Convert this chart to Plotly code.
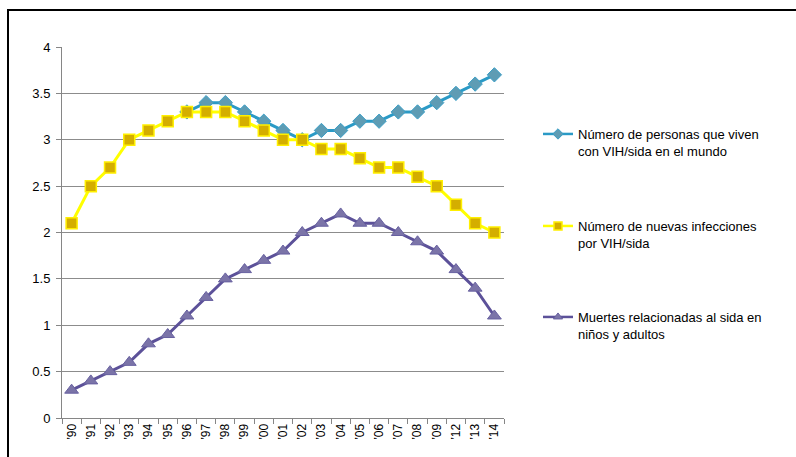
import plotly.graph_objects as go

# Years shown on the category axis
years = ["’90", "’91", "’92", "’93", "’94", "’95", "’96", "’97", "’98", "’99",
         "’00", "’01", "’02", "’03", "’04", "’05", "’06", "’07", "’08", "’09",
         "’12", "’13", "’14"]

# People living with HIV (series begins in '96)
living = [None, None, None, None, None, None, 3.3, 3.4, 3.4, 3.3,
          3.2, 3.1, 3.0, 3.1, 3.1, 3.2, 3.2, 3.3, 3.3, 3.4,
          3.5, 3.6, 3.7]

# New HIV infections
new_inf = [2.1, 2.5, 2.7, 3.0, 3.1, 3.2, 3.3, 3.3, 3.3, 3.2,
           3.1, 3.0, 3.0, 2.9, 2.9, 2.8, 2.7, 2.7, 2.6, 2.5,
           2.3, 2.1, 2.0]

# AIDS-related deaths
deaths = [0.3, 0.4, 0.5, 0.6, 0.8, 0.9, 1.1, 1.3, 1.5, 1.6,
          1.7, 1.8, 2.0, 2.1, 2.2, 2.1, 2.1, 2.0, 1.9, 1.8,
          1.6, 1.4, 1.1]

# Y-axis tick values and labels
y_ticks = [0, 0.5, 1, 1.5, 2, 2.5, 3, 3.5, 4]
y_labels = ["0", "0.5", "1", "1.5", "2", "2.5", "3", "3.5", "4"]

names = [
    "Número de personas que viven<br>con VIH/sida en el mundo",
    "Número de nuevas infecciones<br>por VIH/sida",
    "Muertes relacionadas al sida en<br>niños y adultos",
]

FONT = "Liberation Sans, Arial, sans-serif"

styles = [
    dict(line=dict(color="#2A9AC6", width=3),
         marker=dict(symbol="diamond", color="#5E9CB4",
                     line=dict(color="#3A9FC7", width=1))),
    dict(line=dict(color="#FFFF00", width=3),
         marker=dict(symbol="square", color="#D4AE00",
                     line=dict(color="#FFEF00", width=1.5))),
    dict(line=dict(color="#5C5199", width=3),
         marker=dict(symbol="triangle-up", color="#7B74A8",
                     line=dict(color="#6760A0", width=1))),
]
plot_sizes = [11, 11, 12]
series = [living, new_inf, deaths]
legends = ["legend", "legend2", "legend3"]

fig = go.Figure()
for vals, st, size in zip(series, styles, plot_sizes):
    fig.add_trace(go.Scatter(
        x=years, y=vals, mode="lines+markers", showlegend=False,
        line=st["line"], marker=dict(size=size, **st["marker"]),
    ))

# Legend entries with smaller key markers
for name, st, leg in zip(names, styles, legends):
    fig.add_trace(go.Scatter(
        x=[None], y=[None], name=name, mode="lines+markers",
        line=dict(color=st["line"]["color"], width=2.5),
        marker=dict(size=8, **st["marker"]), legend=leg,
    ))

L, R, T, B = 62, 292, 47, 39
W, H = 796, 457
pw, ph = W - L - R, H - T - B


def px_x(p):
    return (p - L) / pw


def px_y(p):
    return (H - B - p) / ph


legend_common = dict(
    font=dict(family=FONT, size=13, color="#000000"),
    bgcolor="rgba(0,0,0,0)", xanchor="left", yanchor="top",
    valign="top", itemwidth=30, tracegroupgap=0,
)

fig.update_layout(
    width=W, height=H,
    margin=dict(l=L, r=R, t=T, b=B, autoexpand=False),
    paper_bgcolor="white", plot_bgcolor="white",
    font=dict(family=FONT, size=13, color="#000000"),
    showlegend=True,
    legend=dict(x=px_x(538), y=px_y(119), **legend_common),
    legend2=dict(x=px_x(538), y=px_y(211), **legend_common),
    legend3=dict(x=px_x(538), y=px_y(302), **legend_common),
    xaxis=dict(
        type="category", tickangle=-90, tickson="boundaries",
        ticks="outside", ticklen=5, tickcolor="#868686",
        showline=True, linecolor="#868686", linewidth=1,
        showgrid=False, tickfont=dict(family=FONT, size=12),
        range=[-0.5, len(years) - 0.5], automargin=False,
    ),
    yaxis=dict(
        range=[0, 4], tickmode="array", tickvals=y_ticks, ticktext=y_labels,
        ticks="outside", ticklen=5, tickcolor="#868686",
        showline=True, linecolor="#868686", linewidth=1,
        showgrid=True, gridcolor="#8C8C8C", gridwidth=1,
        zeroline=False, tickfont=dict(family=FONT, size=13),
        ticklabelstandoff=3, automargin=False,
    ),
    shapes=[
        dict(type="line", xref="paper", yref="paper",
             x0=px_x(7), x1=px_x(800), y0=px_y(10), y1=px_y(10),
             line=dict(color="#000000", width=2)),
        dict(type="line", xref="paper", yref="paper",
             x0=px_x(8), x1=px_x(8), y0=px_y(9), y1=px_y(470),
             line=dict(color="#000000", width=2)),
    ],
)

fig.write_html("out.html")
